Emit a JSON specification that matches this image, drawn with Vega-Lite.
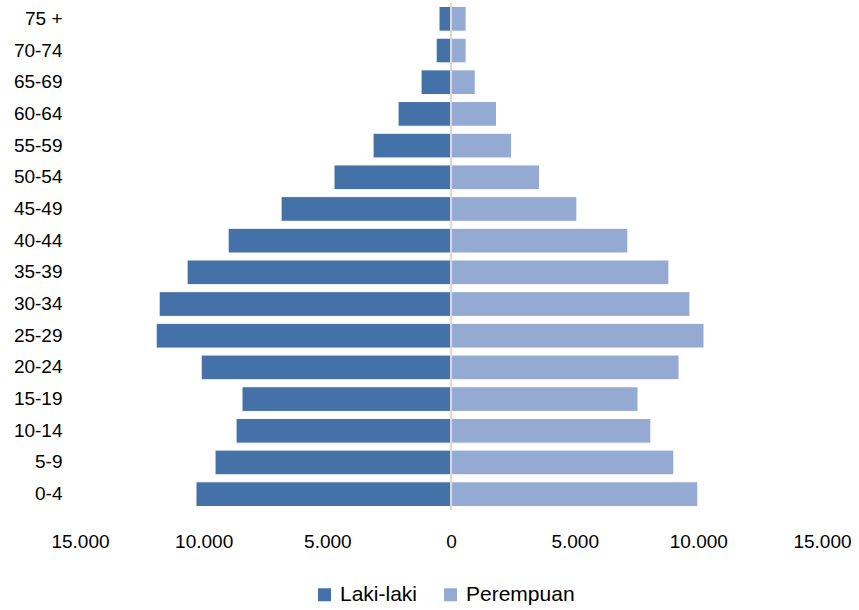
{
  "$schema": "https://vega.github.io/schema/vega-lite/v6.json",
  "width": 742,
  "height": 507,
  "autosize": {"type": "none"},
  "padding": {"left": 80, "top": 3, "right": 37, "bottom": 100},
  "background": "white",
  "config": {"view": {"stroke": null}},
  "data": {
    "values": [
      {"umur": "0-4", "jenis": "Laki-laki", "jumlah": -10310},
      {"umur": "0-4", "jenis": "Perempuan", "jumlah": 9980},
      {"umur": "5-9", "jenis": "Laki-laki", "jumlah": -9540},
      {"umur": "5-9", "jenis": "Perempuan", "jumlah": 9010},
      {"umur": "10-14", "jenis": "Laki-laki", "jumlah": -8690},
      {"umur": "10-14", "jenis": "Perempuan", "jumlah": 8080},
      {"umur": "15-19", "jenis": "Laki-laki", "jumlah": -8450},
      {"umur": "15-19", "jenis": "Perempuan", "jumlah": 7560},
      {"umur": "20-24", "jenis": "Laki-laki", "jumlah": -10100},
      {"umur": "20-24", "jenis": "Perempuan", "jumlah": 9220},
      {"umur": "25-29", "jenis": "Laki-laki", "jumlah": -11920},
      {"umur": "25-29", "jenis": "Perempuan", "jumlah": 10230},
      {"umur": "30-34", "jenis": "Laki-laki", "jumlah": -11800},
      {"umur": "30-34", "jenis": "Perempuan", "jumlah": 9660},
      {"umur": "35-39", "jenis": "Laki-laki", "jumlah": -10670},
      {"umur": "35-39", "jenis": "Perempuan", "jumlah": 8810},
      {"umur": "40-44", "jenis": "Laki-laki", "jumlah": -9010},
      {"umur": "40-44", "jenis": "Perempuan", "jumlah": 7150},
      {"umur": "45-49", "jenis": "Laki-laki", "jumlah": -6870},
      {"umur": "45-49", "jenis": "Perempuan", "jumlah": 5090},
      {"umur": "50-54", "jenis": "Laki-laki", "jumlah": -4730},
      {"umur": "50-54", "jenis": "Perempuan", "jumlah": 3580},
      {"umur": "55-59", "jenis": "Laki-laki", "jumlah": -3150},
      {"umur": "55-59", "jenis": "Perempuan", "jumlah": 2450},
      {"umur": "60-64", "jenis": "Laki-laki", "jumlah": -2140},
      {"umur": "60-64", "jenis": "Perempuan", "jumlah": 1840},
      {"umur": "65-69", "jenis": "Laki-laki", "jumlah": -1210},
      {"umur": "65-69", "jenis": "Perempuan", "jumlah": 980},
      {"umur": "70-74", "jenis": "Laki-laki", "jumlah": -600},
      {"umur": "70-74", "jenis": "Perempuan", "jumlah": 610},
      {"umur": "75 +", "jenis": "Laki-laki", "jumlah": -485},
      {"umur": "75 +", "jenis": "Perempuan", "jumlah": 610}
    ]
  },
  "layer": [
    {
      "mark": {"type": "bar", "stroke": "white", "strokeWidth": 1},
      "encoding": {
        "y": {
          "field": "umur",
          "type": "nominal",
          "sort": ["75 +", "70-74", "65-69", "60-64", "55-59", "50-54", "45-49", "40-44", "35-39", "30-34", "25-29", "20-24", "15-19", "10-14", "5-9", "0-4"],
          "scale": {"paddingInner": 0.22, "paddingOuter": 0.11},
          "axis": {
            "title": null,
            "domain": false,
            "ticks": false,
            "labelPadding": 18,
            "labelFont": "Liberation Sans",
            "labelFontSize": 19,
            "labelColor": "#000000"
          }
        },
        "x": {
          "field": "jumlah",
          "type": "quantitative",
          "scale": {"domain": [-15000, 15000], "nice": false},
          "axis": {
            "title": null,
            "values": [-15000, -10000, -5000, 0, 5000, 10000, 15000],
            "labelExpr": "replace(format(abs(datum.value), ','), ',', '.')",
            "grid": false,
            "domain": false,
            "ticks": false,
            "labelPadding": 22,
            "labelFont": "Liberation Sans",
            "labelFontSize": 19,
            "labelColor": "#000000",
            "labelFlush": false
          }
        },
        "color": {
          "field": "jenis",
          "type": "nominal",
          "scale": {"domain": ["Laki-laki", "Perempuan"], "range": ["#4472A8", "#95AAD3"]},
          "legend": {
            "title": null,
            "orient": "none",
            "direction": "horizontal",
            "legendX": 234,
            "legendY": 581,
            "symbolType": "square",
            "symbolSize": 169,
            "symbolStrokeWidth": 0,
            "labelFont": "Liberation Sans",
            "labelFontSize": 21,
            "labelColor": "#000000",
            "columnPadding": 22,
            "labelOffset": 5
          }
        }
      }
    },
    {
      "mark": {"type": "rule", "color": "#d9d9d9", "strokeWidth": 2},
      "encoding": {"x": {"datum": 0}}
    }
  ]
}
